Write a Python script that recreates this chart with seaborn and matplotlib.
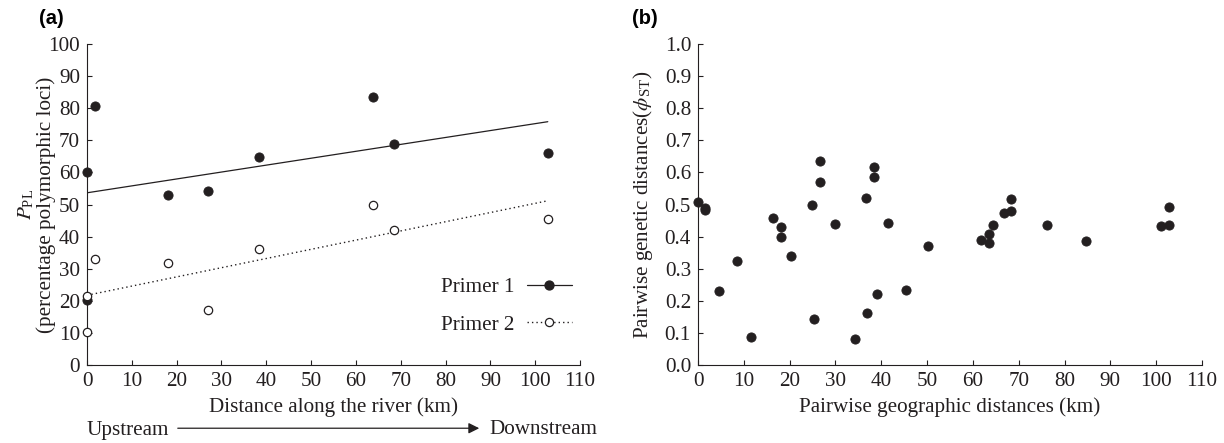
import numpy as np
import pandas as pd
import matplotlib
matplotlib.use("Agg")
import matplotlib.pyplot as plt
import seaborn as sns
from matplotlib.lines import Line2D

# ---------------- data ----------------
p1_dist = [0.0, 1.8, 0.0, 18.1, 26.9, 38.4, 63.7, 68.4, 102.8]
p1_ppl = [60.1, 80.7, 20.4, 53.0, 54.3, 64.8, 83.6, 68.9, 66.0]
p2_dist = [0.0, 0.0, 1.7, 18.1, 26.9, 38.4, 63.7, 68.4, 102.8]
p2_ppl = [21.6, 10.2, 33.0, 31.7, 17.1, 36.2, 49.8, 42.2, 45.4]

geo_dist = [0.0, 1.6, 1.6, 4.6, 8.4, 11.5, 16.3, 18.0, 18.0, 20.2, 24.9, 25.3,
            26.6, 26.6, 30.0, 34.3, 36.7, 36.8, 38.3, 38.3, 39.0, 41.5, 45.4, 50.3,
            61.8, 63.5, 63.5, 64.3, 66.7, 68.4, 68.4, 76.1, 84.7, 101.0, 102.7, 102.7]
gen_dist = [0.508, 0.490, 0.482, 0.231, 0.324, 0.088, 0.457, 0.429, 0.398, 0.341, 0.499, 0.142,
            0.636, 0.570, 0.440, 0.080, 0.519, 0.162, 0.616, 0.585, 0.222, 0.443, 0.234, 0.370,
            0.389, 0.407, 0.381, 0.437, 0.474, 0.480, 0.516, 0.437, 0.386, 0.432, 0.437, 0.491]

legend_labels = ["Primer 1", "Primer 2"]
xticks = list(range(0, 111, 10))
yticks_a = list(range(0, 101, 10))
yticks_b = [round(0.1 * i, 1) for i in range(11)]

# ---------------- style ----------------
sns.set_theme(style="ticks")
INK = "#231f20"
plt.rcParams["font.family"] = ["Liberation Serif", "DejaVu Serif"]
plt.rcParams["mathtext.fontset"] = "stix"
plt.rcParams["text.color"] = INK
plt.rcParams["axes.labelcolor"] = INK
plt.rcParams["xtick.color"] = INK
plt.rcParams["ytick.color"] = INK
plt.rcParams["axes.edgecolor"] = INK

FS = 15.2

fig = plt.figure(figsize=(12.24, 4.43), dpi=100)
ax1 = fig.add_axes([0.0711, 0.176, 0.4028, 0.7247])
ax2 = fig.add_axes([0.5703, 0.176, 0.4117, 0.7247])

df1 = pd.DataFrame({"x": p1_dist, "y": p1_ppl})
df2 = pd.DataFrame({"x": p2_dist, "y": p2_ppl})
dfb = pd.DataFrame({"x": geo_dist, "y": gen_dist})

# panel a
sns.regplot(data=df1, x="x", y="y", ax=ax1, scatter=False, ci=None,
            line_kws=dict(color=INK, lw=0.9, ls="-"))
sns.regplot(data=df2, x="x", y="y", ax=ax1, scatter=False, ci=None,
            line_kws=dict(color=INK, lw=1.0, ls=(0, (1, 2.2))))
sns.scatterplot(data=df1, x="x", y="y", ax=ax1, s=44, color=INK,
                edgecolor=INK, linewidth=0.6, clip_on=False, zorder=3)
sns.scatterplot(data=df2, x="x", y="y", ax=ax1, s=36, color="white",
                edgecolor=INK, linewidth=0.9, clip_on=False, zorder=4)

# panel b
sns.scatterplot(data=dfb, x="x", y="y", ax=ax2, s=44, color=INK,
                edgecolor=INK, linewidth=0.6, clip_on=False, zorder=3)

for ax, yt, ylim in [(ax1, yticks_a, (0, 100)), (ax2, yticks_b, (0, 1.0))]:
    ax.set_xlim(0, 110)
    ax.set_ylim(*ylim)
    ax.set_xticks(xticks)
    ax.set_yticks(yt)
    ax.tick_params(direction="in", length=3.5, width=0.8, labelsize=FS, pad=5)
    for side in ["top", "right"]:
        ax.spines[side].set_visible(False)
    for side in ["left", "bottom"]:
        ax.spines[side].set_linewidth(0.8)

ax2.set_yticklabels([f"{v:.1f}" for v in yticks_b])

ax1.set_xlabel("Distance along the river (km)", fontsize=FS)
ax1.set_ylabel("$P_{\\mathregular{PL}}$\n(percentage polymorphic loci)", fontsize=FS,
               linespacing=1.0)
ax1.xaxis.set_label_coords(0.5, -0.10)
ax1.yaxis.set_label_coords(-0.063, 0.5)

ax2.set_xlabel("Pairwise geographic distances (km)", fontsize=FS)
ax2.set_ylabel("Pairwise genetic distances($\\phi_{\\mathregular{ST}}$)", fontsize=FS)
ax2.xaxis.set_label_coords(0.5, -0.10)
ax2.yaxis.set_label_coords(-0.086, 0.5)

# legend
h1 = Line2D([], [], color=INK, lw=0.9, ls="-", marker="o", markersize=6.4,
            markerfacecolor=INK, markeredgecolor=INK)
h2 = Line2D([], [], color=INK, lw=1.0, ls=(0, (1, 2.2)), marker="o", markersize=5.9,
            markerfacecolor="white", markeredgecolor=INK, markeredgewidth=0.9)
ax1.legend([h1, h2], legend_labels, loc="lower right", bbox_to_anchor=(1.0, 0.068),
           frameon=False, markerfirst=False, fontsize=FS, handlelength=2.1,
           handletextpad=0.6, labelspacing=0.85, borderaxespad=0.0)

# panel letters
fig.text(51 / 1224, 1 - 18 / 443, "(a)", fontsize=14.5, fontweight="bold",
         family="Liberation Sans", ha="center", va="center", color="black")
fig.text(645 / 1224, 1 - 18 / 443, "(b)", fontsize=14.5, fontweight="bold",
         family="Liberation Sans", ha="center", va="center", color="black")

# upstream / downstream arrow
yrow = 1 - 430 / 443
fig.text(87 / 1224, yrow, "Upstream", fontsize=FS, ha="left", va="center")
fig.text(597 / 1224, yrow, "Downstream", fontsize=FS, ha="right", va="center")
fig.add_artist(matplotlib.patches.FancyArrowPatch(
    (175 / 1224, yrow + 0.004), (482 / 1224, yrow + 0.004), transform=fig.transFigure,
    arrowstyle="-|>", mutation_scale=16, color=INK, lw=0.9))

fig.savefig("out.png", dpi=100)
